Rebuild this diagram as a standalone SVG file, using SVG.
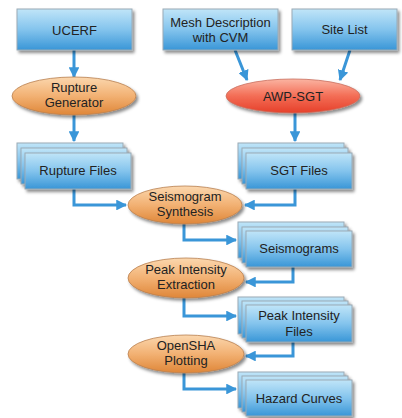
<svg xmlns="http://www.w3.org/2000/svg" width="402" height="418" viewBox="0 0 402 418">
<defs>
<linearGradient id="gBox" x1="0" y1="0" x2="0" y2="1">
<stop offset="0" stop-color="#c0e5f8"/>
<stop offset="0.5" stop-color="#84c4ed"/>
<stop offset="1" stop-color="#3996d7"/>
</linearGradient>
<linearGradient id="gOr" x1="0" y1="0" x2="0" y2="1">
<stop offset="0" stop-color="#fbd7ae"/>
<stop offset="0.5" stop-color="#f2b173"/>
<stop offset="1" stop-color="#df8638"/>
</linearGradient>
<linearGradient id="gRed" x1="0" y1="0" x2="0" y2="1">
<stop offset="0" stop-color="#fbb4a2"/>
<stop offset="0.5" stop-color="#f36d55"/>
<stop offset="1" stop-color="#e6402a"/>
</linearGradient>
<filter id="sh" x="-20%" y="-20%" width="150%" height="160%">
<feDropShadow dx="2" dy="2.5" stdDeviation="1.5" flood-color="#000" flood-opacity="0.45"/>
</filter>
<marker id="ah" viewBox="0 0 10 10" refX="9" refY="5" markerWidth="3.6" markerHeight="3.6" orient="auto" markerUnits="strokeWidth">
<path d="M0,0 L10,5 L0,10 z" fill="#3a96d8"/>
</marker>
</defs>
<style>
.box{fill:url(#gBox);stroke:#9aaab5;stroke-width:1;filter:url(#sh)}
.ov{fill:url(#gOr);stroke:#b98050;stroke-width:0.8;filter:url(#sh)}
.ovr{fill:url(#gRed);stroke:#c9705f;stroke-width:0.8;filter:url(#sh)}
.t{font-family:"Liberation Sans",Arial,sans-serif;font-size:13px;fill:#222;text-anchor:middle}
.c{fill:none;stroke:#3a96d8;stroke-width:3;marker-end:url(#ah)}
</style>
<rect width="402" height="418" fill="#fff"/>
<g id="connectors">
<path class="c" d="M74,50 V77"/>
<path class="c" d="M74,115 V141"/>
<path class="c" d="M235,50 L247,80"/>
<path class="c" d="M350,50 L340,80"/>
<path class="c" d="M295,113 V141"/>
<path class="c" d="M74,189 V205 H126"/>
<path class="c" d="M295,189 V205 H245"/>
<path class="c" d="M184,224 V240 H236"/>
<path class="c" d="M293,267 V282 H246"/>
<path class="c" d="M184,298 V316 H236"/>
<path class="c" d="M293,342 V356 H246"/>
<path class="c" d="M184,373 V389 H236"/>
</g>
<g id="ucerf">
<rect class="box" x="17" y="9" width="115" height="41"/>
<text class="t" x="74.5" y="34.5" font-size="14">UCERF</text>
</g>
<g id="mesh">
<rect class="box" x="163" y="9" width="115" height="41"/>
<text class="t" x="220.5" y="27">Mesh Description</text>
<text class="t" x="220.5" y="42">with CVM</text>
</g>
<g id="sitelist">
<rect class="box" x="292" y="9" width="105" height="41"/>
<text class="t" x="344.5" y="34">Site List</text>
</g>
<g id="rupgen">
<ellipse class="ov" cx="74" cy="96" rx="62" ry="19"/>
<text class="t" x="74" y="92">Rupture</text>
<text class="t" x="74" y="107">Generator</text>
</g>
<g id="awpsgt">
<ellipse class="ovr" cx="293" cy="96" rx="67" ry="17"/>
<text class="t" x="293" y="101">AWP-SGT</text>
</g>
<g id="rupfiles">
<rect class="box" x="17" y="143" width="106" height="36"/>
<rect class="box" x="21" y="148" width="106" height="36"/>
<rect class="box" x="25" y="153" width="106" height="36"/>
<text class="t" x="78" y="175">Rupture Files</text>
</g>
<g id="sgtfiles">
<rect class="box" x="238" y="143" width="106" height="36"/>
<rect class="box" x="242" y="148" width="106" height="36"/>
<rect class="box" x="246" y="153" width="106" height="36"/>
<text class="t" x="299" y="175">SGT Files</text>
</g>
<g id="seissynth">
<ellipse class="ov" cx="185" cy="205" rx="57" ry="19"/>
<text class="t" x="185" y="201">Seismogram</text>
<text class="t" x="185" y="216">Synthesis</text>
</g>
<g id="seismograms">
<rect class="box" x="238" y="222" width="106" height="36"/>
<rect class="box" x="242" y="227" width="106" height="36"/>
<rect class="box" x="246" y="231" width="106" height="36"/>
<text class="t" x="299" y="253">Seismograms</text>
</g>
<g id="peakext">
<ellipse class="ov" cx="186" cy="278" rx="58" ry="20"/>
<text class="t" x="186" y="274">Peak Intensity</text>
<text class="t" x="186" y="289">Extraction</text>
</g>
<g id="peakfiles">
<rect class="box" x="238" y="297" width="106" height="37"/>
<rect class="box" x="242" y="301" width="106" height="37"/>
<rect class="box" x="246" y="305" width="106" height="37"/>
<text class="t" x="299" y="320">Peak Intensity</text>
<text class="t" x="299" y="336">Files</text>
</g>
<g id="opensha">
<ellipse class="ov" cx="186" cy="354" rx="58" ry="19"/>
<text class="t" x="186" y="350">OpenSHA</text>
<text class="t" x="186" y="365">Plotting</text>
</g>
<g id="hazard">
<rect class="box" x="238" y="372" width="106" height="36"/>
<rect class="box" x="242" y="376" width="106" height="36"/>
<rect class="box" x="246" y="380" width="106" height="36"/>
<text class="t" x="299" y="403">Hazard Curves</text>
</g>
</svg>
